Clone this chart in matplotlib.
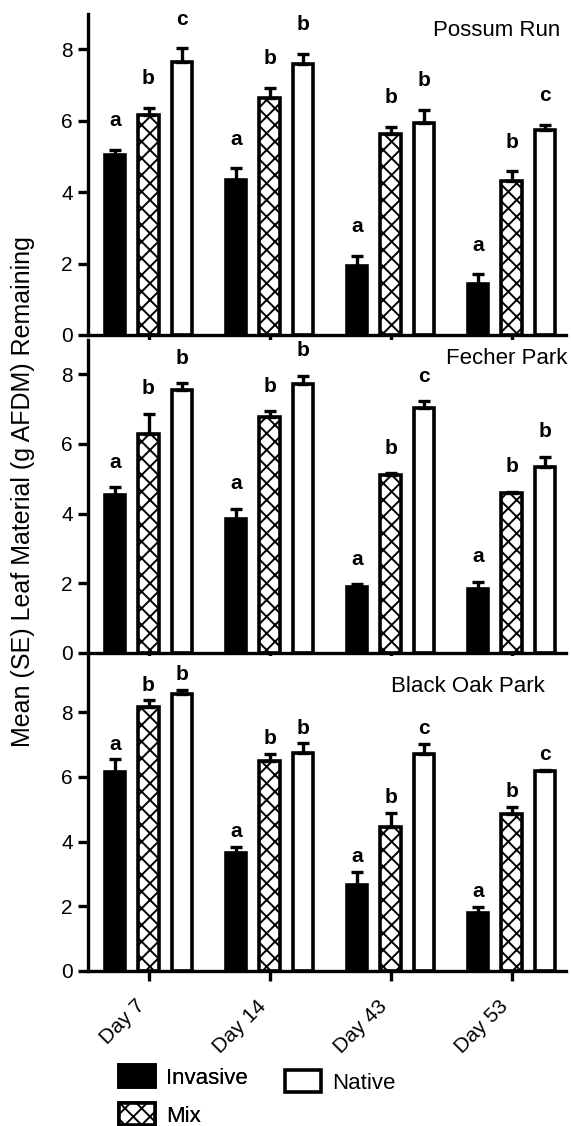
import numpy as np
import matplotlib
matplotlib.use("Agg")
import matplotlib.pyplot as plt
import matplotlib.transforms as mtransforms

plt.rcParams['font.family'] = ['Liberation Sans', 'DejaVu Sans']
plt.rcParams['hatch.linewidth'] = 1.4

days = ["Day 7", "Day 14", "Day 43", "Day 53"]
sites = ["Possum Run", "Fecher Park", "Black Oak Park"]
groups = ["Invasive", "Mix", "Native"]

# means per site, rows = Invasive, Mix, Native
possum_mean = [[5.03, 4.33, 1.94, 1.44],
               [6.17, 6.64, 5.64, 4.31],
               [7.64, 7.60, 5.94, 5.75]]
possum_se = [[0.16, 0.34, 0.28, 0.26],
             [0.19, 0.28, 0.19, 0.27],
             [0.39, 0.28, 0.36, 0.14]]
possum_letters = [["a", "a", "a", "a"],
                  ["b", "b", "b", "b"],
                  ["c", "b", "b", "c"]]

fecher_mean = [[4.54, 3.84, 1.88, 1.84],
               [6.27, 6.76, 5.11, 4.60],
               [7.54, 7.71, 7.04, 5.35]]
fecher_se = [[0.22, 0.30, 0.10, 0.21],
             [0.60, 0.18, 0.05, 0.03],
             [0.20, 0.24, 0.19, 0.28]]
fecher_letters = [["a", "a", "a", "a"],
                  ["b", "b", "b", "b"],
                  ["b", "b", "c", "b"]]

blackoak_mean = [[6.16, 3.65, 2.67, 1.78],
                 [8.17, 6.49, 4.46, 4.87],
                 [8.57, 6.73, 6.71, 6.18]]
blackoak_se = [[0.38, 0.19, 0.40, 0.20],
               [0.20, 0.22, 0.43, 0.20],
               [0.12, 0.31, 0.31, 0.03]]
blackoak_letters = [["a", "a", "a", "a"],
                    ["b", "b", "b", "b"],
                    ["b", "b", "c", "c"]]

panels = [
    (possum_mean, possum_se, possum_letters),
    (fecher_mean, fecher_se, fecher_letters),
    (blackoak_mean, blackoak_se, blackoak_letters),
]

W, H = 571, 1126
fig = plt.figure(figsize=(W / 100, H / 100), dpi=100)

# axes boxes in pixels: (top, bottom), plus y upper limit and letter offset
boxes = [(14, 335, 8.99, 17), (340, 653, 8.98, 14), (656, 971, 9.74, 7)]
title_pos = [(560, 31), (567, 358), (545, 686)]

fills = ["black", "white", "white"]
hatches = [None, "xx", None]
offsets = [-0.276, 0.0, 0.276]
width = 0.17
x = np.arange(len(days))

handles = []
for i, (means, ses, letters) in enumerate(panels):
    top, bottom, ymax, lift = boxes[i]
    ax = fig.add_axes([88 / W, 1 - bottom / H, 478 / W, (bottom - top) / H])
    for g in range(3):
        bars = ax.bar(x + offsets[g], means[g], width, color=fills[g],
                      edgecolor="black", linewidth=2.6, hatch=hatches[g], zorder=2)
        if i == 0:
            handles.append(bars)
        ax.errorbar(x + offsets[g], means[g], yerr=[np.zeros(4), ses[g]],
                    fmt="none", ecolor="black", elinewidth=2.4, capsize=4,
                    capthick=2.4, zorder=3)
        for k in range(4):
            ax.annotate(letters[g][k], (x[k] + offsets[g], means[g][k] + ses[g][k]),
                        xytext=(0, lift), textcoords="offset points",
                        ha="center", va="baseline", fontsize=15, fontweight="bold")
    ax.set_xlim(-0.5, 3.45)
    ax.set_ylim(0, ymax)
    ax.set_yticks([0, 2, 4, 6, 8])
    ax.set_xticks(x)
    for s in ["top", "right"]:
        ax.spines[s].set_visible(False)
    for s in ["left", "bottom"]:
        ax.spines[s].set_linewidth(2.4)
    ax.tick_params(width=2.4, length=7, labelsize=15, pad=4)
    if i < 2:
        ax.set_xticklabels([])
    else:
        ax.set_xticklabels(days, rotation=45, ha="right", va="top",
                           rotation_mode="anchor")
        shift = mtransforms.ScaledTranslation(-13 / 100, -10 / 100, fig.dpi_scale_trans)
        for lab in ax.get_xticklabels():
            lab.set_transform(lab.get_transform() + shift)
    tx, ty = title_pos[i]
    fig.text(tx / W, 1 - ty / H, sites[i], ha="right", va="center", fontsize=16)

fig.text(23 / W, 1 - 492 / H, "Mean (SE) Leaf Material (g AFDM) Remaining",
         rotation=90, ha="center", va="center", fontsize=18)

leg1 = fig.legend([handles[0], handles[1]], groups[:2], loc="upper left",
                  bbox_to_anchor=(119 / W, 1 - 1065 / H), frameon=False,
                  fontsize=16, handlelength=1.6, handleheight=1.15,
                  handletextpad=0.5, labelspacing=0.65, borderpad=0, borderaxespad=0)
fig.add_artist(leg1)
fig.legend([handles[2]], groups[2:], loc="upper left",
           bbox_to_anchor=(285 / W, 1 - 1070 / H), frameon=False,
           fontsize=16, handlelength=1.6, handleheight=1.15,
           handletextpad=0.5, borderpad=0, borderaxespad=0)

fig.savefig("out.png", dpi=100)
